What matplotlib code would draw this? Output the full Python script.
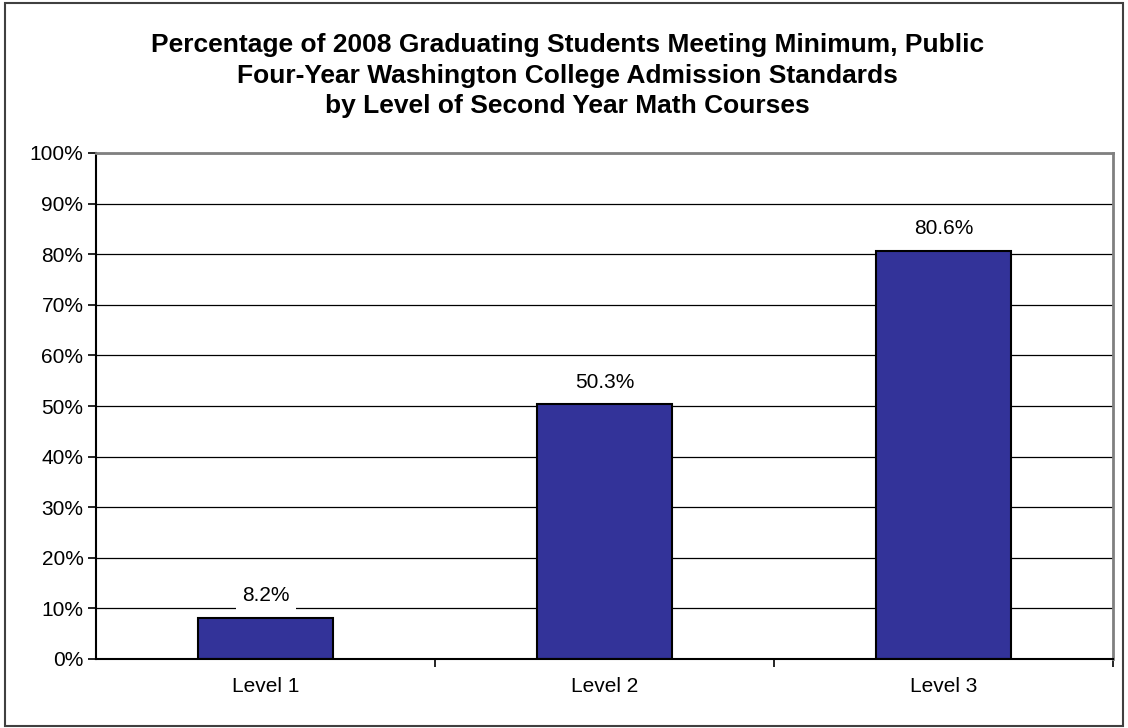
import matplotlib
matplotlib.use("Agg")
import matplotlib.pyplot as plt
from matplotlib.patches import Rectangle
from matplotlib.ticker import MultipleLocator, FixedLocator, FuncFormatter

categories = ["Level 1", "Level 2", "Level 3"]
values = [8.2, 50.3, 80.6]
value_labels = ["8.2%", "50.3%", "80.6%"]
title = ("Percentage of 2008 Graduating Students Meeting Minimum, Public\n"
         "Four-Year Washington College Admission Standards\n"
         "by Level of Second Year Math Courses")

plt.rcParams['font.family'] = ['Liberation Sans', 'DejaVu Sans']

fig = plt.figure(figsize=(11.28, 7.28), dpi=100)
fig.patch.set_facecolor('white')
fig.patches.append(Rectangle((0.004, 0.003), 0.992, 0.993, transform=fig.transFigure,
                             fill=False, edgecolor='#404040', linewidth=1.5))

ax = fig.add_axes([96/1128, (728-659)/728, (1113-96)/1128, (659-153)/728])
x = list(range(len(categories)))
ax.bar(x, values, width=0.4, color='#333399', edgecolor='black', linewidth=1.5, zorder=3)

ax.set_xlim(-0.5, len(categories) - 0.5)
ax.set_ylim(0, 100)
ax.yaxis.set_major_locator(MultipleLocator(10))
ax.yaxis.set_major_formatter(FuncFormatter(lambda v, p: f"{v:.0f}%"))
ax.grid(axis='y', color='black', linewidth=0.9, zorder=0)

ax.set_xticks(x)
ax.set_xticklabels(categories, fontsize=15)
ax.tick_params(axis='x', length=0, pad=13)
ax.xaxis.set_minor_locator(FixedLocator([0.5, 1.5, 2.5]))
ax.tick_params(axis='x', which='minor', length=6, width=1.2, color='black', direction='out')
ax.tick_params(axis='y', labelsize=15, length=6, width=1.2, color='black', direction='out', pad=3)

for s in ['left', 'bottom']:
    ax.spines[s].set_color('black')
    ax.spines[s].set_linewidth(1.5)
for s in ['top', 'right']:
    ax.spines[s].set_color('#808080')
    ax.spines[s].set_linewidth(2)
ax.spines['bottom'].set_zorder(5)

for xi, v, lab in zip(x, values, value_labels):
    ax.annotate(lab, (xi, v), xytext=(0, 12), textcoords='offset points',
                ha='center', va='baseline', fontsize=15,
                bbox=dict(boxstyle='square,pad=0.3', facecolor='white', edgecolor='none'),
                zorder=4)

fig.text(0.503, 0.955, title, ha='center', va='top', fontsize=19, fontweight='bold',
         linespacing=1.36)

fig.savefig("out.png", dpi=100, facecolor='white')
